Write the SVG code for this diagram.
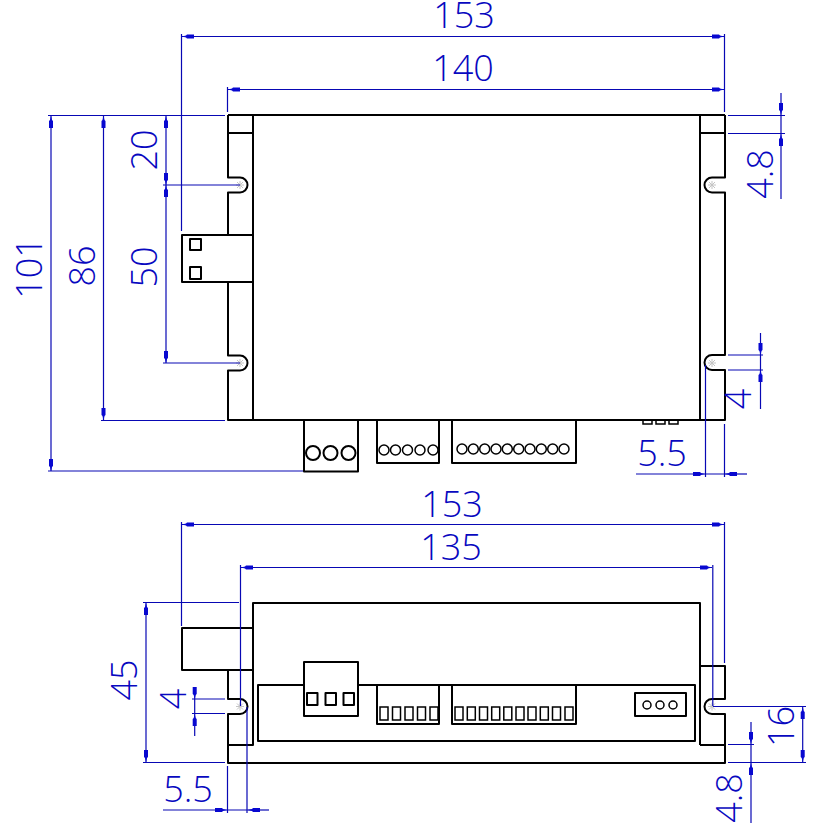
<svg xmlns="http://www.w3.org/2000/svg" width="829" height="834" viewBox="0 0 829 834">
<style>
.b{fill:none;stroke:#000;stroke-width:2;stroke-linejoin:round}
.t{fill:none;stroke:#000;stroke-width:1.5}
.d{fill:none;stroke:#0808b4;stroke-width:1.2}
.a{marker-start:url(#ar);marker-end:url(#ar)}
.e{marker-end:url(#ar)}
.c{fill:none;stroke:#c4c4c4;stroke-width:1}
text{font-family:"Open Sans","Liberation Sans",sans-serif;font-weight:300;font-size:36px;fill:#0808c0;text-anchor:middle}
</style>
<defs>
<marker id="ar" markerUnits="userSpaceOnUse" markerWidth="14" markerHeight="8" refX="13" refY="4" orient="auto-start-reverse" viewBox="0 0 14 8">
<path d="M13,4 L9,3 L8,2 L1,2 L1,6 L8,6 L9,5Z" fill="#0808d0"/>
</marker>
<path id="star" class="c" d="M-4,0H4M0,-4V4M-3,-3L3,3M-3,3L3,-3"/>
</defs>

<g id="top-view">
<path class="b" d="M253,115H700V420H253Z"/>
<path class="b" d="M228,115H253M228,133H253M228,115V133M228,133V177.5H240A7.5,7.5 0 0 1 240,192.5H228V235M228,282V355.500H240A7.5,7.5 0 0 1 240,370.500H228V420H253"/>
<path class="b" d="M700,115H725M700,133H725M725,115V177.5H712A7.5,7.5 0 0 0 712,192.5H725V355H712A7.5,7.5 0 0 0 712,370H725V420H700"/>
<g id="top-usb">
<rect class="b" x="182" y="235" width="71" height="47"/>
<rect class="b" x="190" y="239" width="11" height="11"/>
<rect class="b" x="190" y="267" width="11" height="12"/>
</g>
<g id="top-conn-3">
<path class="b" d="M304,420V471.500H358V420"/>
<circle class="b" cx="313" cy="453" r="7"/><circle class="b" cx="330.500" cy="453" r="7"/><circle class="b" cx="348.500" cy="453" r="7"/>
</g>
<g id="top-conn-5">
<path class="b" d="M377,420V463H439V420"/>
<circle class="t" cx="384" cy="450" r="5"/><circle class="t" cx="395.500" cy="450" r="5"/><circle class="t" cx="407.500" cy="450" r="5"/><circle class="t" cx="420" cy="450" r="5"/><circle class="t" cx="433" cy="450" r="5"/>
</g>
<g id="top-conn-10">
<path class="b" d="M452,420V463H576V420"/>
<circle class="t" cx="462" cy="449" r="5"/><circle class="t" cx="473.300" cy="449" r="5"/><circle class="t" cx="484.700" cy="449" r="5"/><circle class="t" cx="496" cy="449" r="5"/><circle class="t" cx="507.300" cy="449" r="5"/><circle class="t" cx="518.700" cy="449" r="5"/><circle class="t" cx="530" cy="449" r="5"/><circle class="t" cx="541.300" cy="449" r="5"/><circle class="t" cx="552.700" cy="449" r="5"/><circle class="t" cx="564" cy="449" r="5"/>
</g>
<path id="top-small" class="t" d="M643,421V424H652V421M656,421V424H665V421M669,421V424H678V421"/>
</g>

<g id="bottom-view">
<path class="b" d="M253,628V603H700V745"/>
<path class="b" d="M253,670V745H228M228,670H253M228,670V699H240A7.5,7.5 0 0 1 240,714H228V763H725V714H712A7.5,7.5 0 0 1 712,699H725V666H700M700,745H725"/>
<path class="b" d="M253,628V670"/>
<rect id="bottom-usb" class="b" x="182" y="628" width="71" height="42"/>
<path id="bottom-panel" class="b" d="M304,685H258V741H695V685H358"/>
<g id="bottom-conn-3">
<rect class="b" x="304" y="662" width="54" height="54"/>
<rect class="b" x="307" y="693" width="10.500" height="12"/><rect class="b" x="325.500" y="693" width="10.500" height="12"/><rect class="b" x="343.500" y="693" width="10.500" height="12"/>
</g>
<g id="bottom-conn-5">
<path class="b" d="M377,685V724H439V685"/>
<rect class="t" x="380" y="707" width="8" height="13"/><rect class="t" x="392.500" y="707" width="8" height="13"/><rect class="t" x="405" y="707" width="8" height="13"/><rect class="t" x="417.500" y="707" width="8" height="13"/><rect class="t" x="430" y="707" width="8" height="13"/>
</g>
<g id="bottom-conn-10">
<path class="b" d="M452,685V724H576V685"/>
<rect class="t" x="455" y="707" width="8" height="13"/><rect class="t" x="467.300" y="707" width="8" height="13"/><rect class="t" x="479.500" y="707" width="8" height="13"/><rect class="t" x="491.700" y="707" width="8" height="13"/><rect class="t" x="503.800" y="707" width="8" height="13"/><rect class="t" x="516" y="707" width="8" height="13"/><rect class="t" x="528" y="707" width="8" height="13"/><rect class="t" x="540.300" y="707" width="8" height="13"/><rect class="t" x="552.500" y="707" width="8" height="13"/><rect class="t" x="565" y="707" width="8" height="13"/>
</g>
<g id="bottom-conn-small">
<rect class="b" x="635" y="693" width="51" height="23"/>
<circle class="t" cx="647" cy="705" r="4"/><circle class="t" cx="660" cy="705" r="4"/><circle class="t" cx="673" cy="705" r="4"/>
</g>
</g>

<g id="center-marks">
<use href="#star" x="240" y="185"/><use href="#star" x="240" y="363"/><use href="#star" x="712" y="185"/><use href="#star" x="712" y="363"/><use href="#star" x="240" y="706.500"/><use href="#star" x="712" y="706.500"/>
</g>

<g id="connectors">
<path class="d" d="M181.500,34V231M724.500,34V112M227.500,87V112"/>
<path class="d a" d="M182,36.500H724"/>
<path class="d a" d="M228,89.500H724"/>
<path class="d" d="M48,115.500H225M48,471H303M101,420.500H225M163,185H240M163,363H240"/>
<path class="d a" d="M51,116V471"/>
<path class="d a" d="M103.500,116V420"/>
<path class="d a" d="M166,116V185"/>
<path class="d a" d="M166,185V363"/>
<path class="d" d="M728,115.500H785M728,133.500H785M728,355H763M728,370H763"/>
<path class="d" d="M781,115V134M760.500,355V370"/>
<path class="d e" d="M781,93V115"/><path class="d e" d="M781,199V134"/>
<path class="d e" d="M760.500,333V355"/><path class="d e" d="M760.500,409V370"/>
<path class="d" d="M705.500,365V477M724.500,424V477M705,474H725"/>
<path class="d e" d="M636,474H705"/><path class="d e" d="M747,474H725"/>

<path class="d" d="M181.500,522V626M724.500,522V663M240.500,565V706M712.800,565V706"/>
<path class="d a" d="M182,524.500H724"/>
<path class="d a" d="M241,567.500H712"/>
<path class="d" d="M143,602.500H239M143,762.500H225"/>
<path class="d a" d="M146,603V762"/>
<path class="d" d="M192,699H225M192,713.500H225M194.700,699V714"/>
<path class="d e" d="M194.700,687V699"/><path class="d e" d="M194.700,736V714"/>
<path class="d" d="M227.500,766V813M247,707V813M227,810H248"/>
<path class="d e" d="M163,810H227"/><path class="d e" d="M269,810H248"/>
<path class="d" d="M713,706.500H806M728,744.500H754M728,762.500H806M751,744V763"/>
<path class="d a" d="M802.700,707V762"/>
<path class="d e" d="M751,722V744"/><path class="d e" d="M751,823V763"/>
</g>

<g id="labels">
<text x="464" y="28">153</text>
<text x="463" y="81">140</text>
<text transform="translate(42,268) rotate(-90)">101</text>
<text transform="translate(95,266) rotate(-90)">86</text>
<text transform="translate(157,150) rotate(-90)">20</text>
<text transform="translate(157,267) rotate(-90)">50</text>
<text transform="translate(773,174) rotate(-90)">4.8</text>
<text transform="translate(751,399) rotate(-90)">4</text>
<text x="662" y="466">5.5</text>
<text x="452" y="517">153</text>
<text x="451" y="560">135</text>
<text transform="translate(137,680) rotate(-90)">45</text>
<text transform="translate(186,699) rotate(-90)">4</text>
<text x="188" y="802">5.5</text>
<text transform="translate(794,726.500) rotate(-90)">16</text>
<text transform="translate(742,798) rotate(-90)">4.8</text>
</g>
</svg>
